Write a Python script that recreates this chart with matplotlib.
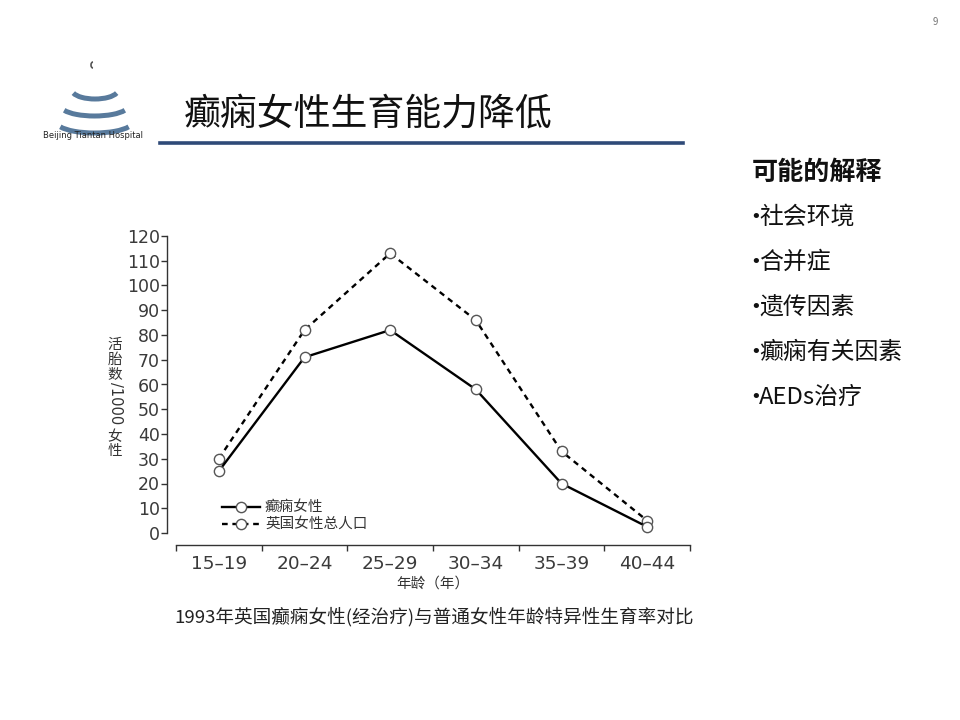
import matplotlib
matplotlib.use("Agg")
import matplotlib.pyplot as plt
from matplotlib.patches import Arc
from matplotlib.lines import Line2D
from matplotlib.ticker import FixedLocator, NullFormatter

plt.rcParams['font.family'] = ['Noto Sans CJK SC', 'DejaVu Sans']

categories = ["15–19", "20–24", "25–29", "30–34", "35–39", "40–44"]
epilepsy = [25, 71, 82, 58, 20, 2.5]
general = [30, 82, 113, 86, 33, 5]
yticks = list(range(0, 121, 10))
series_labels = ["癫痫女性", "英国女性总人口"]
bullets = ["社会环境", "合并症", "遗传因素", "癫痫有关因素", "AEDs治疗"]

W, H = 960, 720
fig = plt.figure(figsize=(9.6, 7.2), dpi=100)
fig.patch.set_facecolor("white")

def fx(x):
    return x / W

def fy(y):
    return 1 - y / H

dash_style = (0, (2.4, 2.0))
marker_kw = dict(marker="o", ms=7.4, mfc="white", mec="#555555", mew=1.0)

# main chart axes
ax = fig.add_axes([fx(176), fy(533), fx(690) - fx(176), fy(236) - fy(533)])
x = list(range(len(categories)))
ax.plot(x, general, linestyle=dash_style, color="black", lw=1.7,
        clip_on=False, zorder=3, **marker_kw)
ax.plot(x, epilepsy, linestyle="-", color="black", lw=1.7,
        clip_on=False, zorder=4, **marker_kw)

ax.set_xlim(-0.5, len(categories) - 0.5)
ax.set_ylim(0, 120)
for s in ["top", "right"]:
    ax.spines[s].set_visible(False)
ax.spines["left"].set_position(("outward", 6.5))
ax.spines["bottom"].set_position(("outward", 8.6))
ax.spines["left"].set_bounds(0, 120)
for s in ["left", "bottom"]:
    ax.spines[s].set_color("#333333")
    ax.spines[s].set_linewidth(1.0)

ax.set_yticks(yticks)
ax.set_yticklabels([str(v) for v in yticks])
ax.tick_params(axis="y", length=4, width=1.0, color="#333333", pad=1,
               labelsize=12.5, labelcolor="#3a3a3a", labelfontfamily="DejaVu Sans")

ax.set_xticks(x)
ax.set_xticklabels(categories)
ax.tick_params(axis="x", which="major", length=0, pad=7, labelsize=13.3,
               labelcolor="#3a3a3a", labelfontfamily="DejaVu Sans")
ax.xaxis.set_minor_locator(FixedLocator([i - 0.5 for i in range(len(categories) + 1)]))
ax.xaxis.set_minor_formatter(NullFormatter())
ax.tick_params(axis="x", which="minor", length=4, width=1.0, color="#333333", direction="out")

# manual legend
for ls, lab, yy in [("-", series_labels[0], 507), (dash_style, series_labels[1], 524)]:
    fig.add_artist(Line2D([fx(222), fx(260)], [fy(yy), fy(yy)], transform=fig.transFigure,
                          color="black", lw=1.7, linestyle=ls))
    fig.add_artist(Line2D([fx(241)], [fy(yy)], transform=fig.transFigure,
                          linestyle="none", **marker_kw))
    fig.text(fx(265), fy(yy), lab, ha="left", va="center", fontsize=10.5, color="#333333")

# vertical y-label (CJK upright, digits rotated)
ylab_color = "#333333"
for ch, yy in [("活", 345), ("胎", 360), ("数", 375)]:
    fig.text(fx(115), fy(yy), ch, ha="center", va="center", fontsize=10.5, color=ylab_color)
fig.text(fx(115), fy(403), "/1000", ha="center", va="center", fontsize=10.5,
         rotation=-90, color=ylab_color, family="DejaVu Sans")
for ch, yy in [("女", 437), ("性", 451)]:
    fig.text(fx(115), fy(yy), ch, ha="center", va="center", fontsize=10.5, color=ylab_color)

# x label and caption
fig.text(fx(433), fy(584), "年龄（年）", ha="center", va="center", fontsize=10.5, color="#333333")
fig.text(fx(434), fy(617), "1993年英国癫痫女性(经治疗)与普通女性年龄特异性生育率对比",
         ha="center", va="center", fontsize=13.4, color="#222222")

# title and rule
fig.text(fx(184), fy(114), "癫痫女性生育能力降低", ha="left", va="center",
         fontsize=26.6, color="#111111")
fig.add_artist(Line2D([fx(160), fx(683)], [fy(143), fy(143)],
                      transform=fig.transFigure, color="#2f4a78", lw=2.6))

# right side text
fig.text(fx(752), fy(172), "可能的解释", ha="left", va="center", fontsize=18.8,
         fontweight="bold", color="#111111")
for i, b in enumerate(bullets):
    yy = fy(217 + i * 45)
    fig.text(fx(750), yy, "•", ha="left", va="center", fontsize=13,
             family="DejaVu Sans", color="#111111")
    fig.text(fx(759), yy, b, ha="left", va="center", fontsize=17.2, color="#111111")

# page number
fig.text(fx(935), fy(22), "9", ha="center", va="center", fontsize=7, color="#777777")

# logo
lax = fig.add_axes([fx(40), fy(150), fx(150) - fx(40), fy(55) - fy(150)])
lax.set_xlim(40, 150)
lax.set_ylim(150, 55)
lax.axis("off")
logo_col = "#587a9c"
for cx, cy, w, h in [(95, 90, 46, 18), (94.5, 106, 67, 20), (94.5, 122, 76, 22)]:
    lax.add_patch(Arc((cx, cy), w, h, theta1=8, theta2=172, color=logo_col, lw=3.6))
lax.add_patch(Arc((93, 65), 4, 6, theta1=90, theta2=270, color="#555555", lw=1.2))
lax.text(93, 136, "Beijing Tiantan Hospital", ha="center", va="center",
         fontsize=6, family="DejaVu Sans", color="#222222")

fig.savefig("out.png", dpi=100, facecolor="white")
